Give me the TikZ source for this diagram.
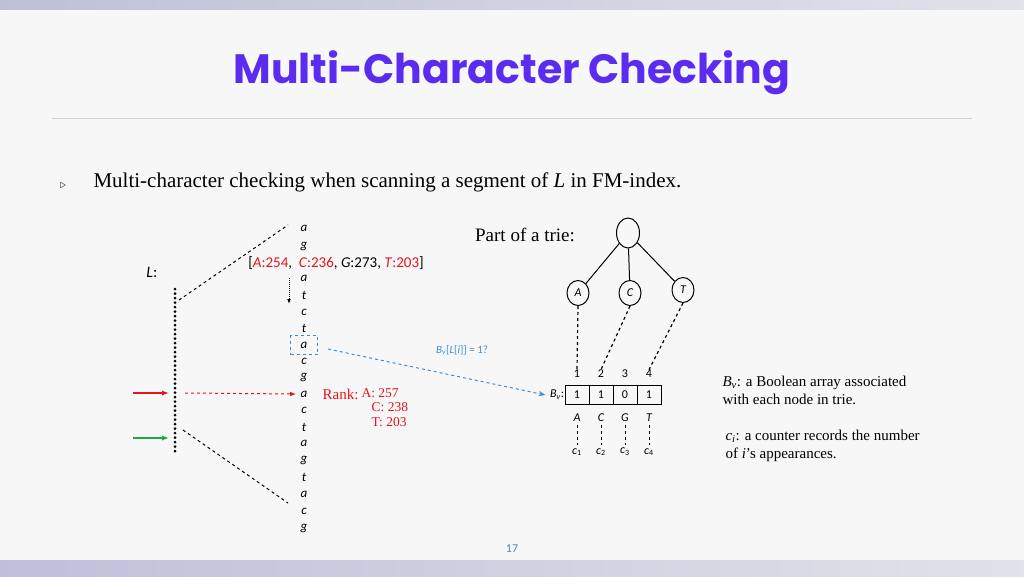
\documentclass[tikz,border=0pt]{standalone}
\usepackage{fontspec}
\setmainfont{Liberation Serif}
\newfontfamily\calfnt{Carlito}
\newfontfamily\popfnt{Poppins}
\usetikzlibrary{arrows.meta,shapes.geometric}
\definecolor{ttl}{HTML}{5A2CF0}
\definecolor{rd}{HTML}{E8141C}
\definecolor{bl}{HTML}{3A8FD0}
\definecolor{gr}{HTML}{1BA84A}
\tikzset{
 let/.style={font=\calfnt\itshape\fontsize{13}{13}\selectfont,inner sep=0pt},
 tn/.style={draw,ellipse,inner sep=0pt},
 cell/.style={draw,minimum width=24pt,minimum height=19pt,inner sep=0pt,font=\calfnt\fontsize{12}{12}\selectfont},
 sm/.style={font=\calfnt\fontsize{12}{12}\selectfont,inner sep=0pt},
 desc/.style={font=\fontsize{15}{18}\selectfont,inner sep=0pt,anchor=west,align=left},
 dl/.style={dashed,line width=1.2pt},
}
\begin{document}
\begin{tikzpicture}[x=1pt,y=-1pt,line width=1pt]
\useasboundingbox (0,0) rectangle (1024,576);
\fill[gray!6] (0,0) rectangle (1024,576);
\shade[left color=blue!25!gray!40,right color=blue!15!gray!20] (0,0) rectangle (1024,9);
\shade[left color=blue!25!gray!40,right color=blue!15!gray!20] (0,560) rectangle (1024,576);
\node[font=\popfnt\bfseries\fontsize{41}{41}\selectfont,text=ttl] (title) at (512,73) {Multi-Character Checking};
\draw[gray!35] (52,118) -- (972,118);
\node[font=\fontsize{12}{12}\selectfont] (bul) at (63,186) {$\triangleright$};
\node[font=\fontsize{21}{21}\selectfont,anchor=west,inner sep=0pt] (head) at (93,182) {Multi-character checking when scanning a segment of \textit{L} in FM-index.};
\foreach \c/\y [count=\i] in {a/228,g/246,a/278,t/295,c/312,t/328,a/345,c/361,g/377,a/394,c/410,t/427,a/443,g/460,t/477,a/494,c/511,g/528}
  \node[let] (l\i) at (304,\y) {\c};
\node[font=\calfnt\fontsize{15}{15}\selectfont,inner sep=0pt] (cnt) at (336,263) {[\textcolor{rd}{\textit{A}:254}, \ \textcolor{rd}{\textit{C}:236}, \textit{G}:273, \textcolor{rd}{\textit{T}:203}]};
\node[font=\calfnt\itshape\fontsize{16}{16}\selectfont] (L) at (152,272) {L\upshape:};
\draw[line width=3pt,dash pattern=on 0pt off 4.5pt,line cap=round] (175,289) -- (175,454);
\coordinate (top1) at (179,300); \coordinate (top2) at (288,225);
\coordinate (bot1) at (183,430); \coordinate (bot2) at (288,503);
\draw[dashed] (top1) -- (top2);
\draw[dashed] (bot1) -- (bot2);
\coordinate (ra) at (133,393); \coordinate (rb) at (169,393);
\draw[rd,line width=2pt,-{Latex[length=7pt]}] (ra) -- (rb);
\coordinate (ga) at (133,438); \coordinate (gb) at (169,438);
\draw[gr,line width=2pt,-{Latex[length=7pt]}] (ga) -- (gb);
\coordinate (rd1) at (185,393);
\draw[rd,dashed,-{Latex[length=6pt]}] (rd1) -- ([xshift=-4pt]l10.west);
\coordinate (ad1) at (289,278); \coordinate (ad2) at (289,304);
\draw[densely dotted,-{Latex[length=5pt]}] (ad1) -- (ad2);
\node[draw=bl,dashed,line width=1.2pt,minimum width=27pt,minimum height=19pt] (box) at (304,345) {};
\node[font=\fontsize{15}{16}\selectfont,text=rd,anchor=north east,inner sep=0pt] (rank) at (359,389) {Rank:};
\node[font=\fontsize{13.5}{15.5}\selectfont,text=rd,anchor=north west,inner sep=0pt,align=left] (rv) at (361,388) {A: 257\\[-1pt]\ \ \ C: 238\\[-1pt]\ \ \ T: 203};
\node[font=\fontsize{19}{19}\selectfont] (part) at (525,235) {Part of a trie:};
\node[tn,minimum width=23pt,minimum height=30pt] (root) at (628,233) {};
\node[tn,minimum width=22pt,minimum height=25pt,font=\calfnt\itshape\fontsize{12}{12}\selectfont] (A) at (578,293) {A};
\node[tn,minimum width=22pt,minimum height=25pt,font=\calfnt\itshape\fontsize{12}{12}\selectfont] (C) at (630,293) {C};
\node[tn,minimum width=22pt,minimum height=25pt,font=\calfnt\itshape\fontsize{12}{12}\selectfont] (T) at (683,290) {T};
\draw (root) -- (A); \draw (root) -- (C); \draw (root) -- (T);
\foreach \v/\x [count=\i] in {1/577,1/601,0/625,1/649}{
  \node[cell] (b\i) at (\x,395) {\v};
  \node[sm] (n\i) at (\x,374) {\i};
}
\foreach \s/\x [count=\i] in {A/577,C/601,G/625,T/649}{
  \node[sm,font=\calfnt\itshape\fontsize{12}{12}\selectfont] (s\i) at (\x,418) {\s};
  \node[sm] (c\i) at (\x,452) {\textit{c}\textsubscript{\i}};
  \draw[dashed] ([yshift=-3pt]s\i.south) -- ([yshift=3pt]c\i.north);
}
\draw[dl] (A.south) -- (n1.north);
\draw[dl] (C.south) -- (n2.north);
\draw[dl] (T.south) -- (n4.north);
\node[sm,anchor=east] (bv) at (b1.west) {\textit{B}\textsubscript{\textit{v}}:\ };
\coordinate (bs) at (328,349);
\draw[bl,dashed,-{Stealth[length=7pt,open]}] (bs) -- ([xshift=-4pt]bv.west);
\node[sm,text=bl,font=\calfnt\fontsize{11}{11}\selectfont] (q) at (462,350) {\textit{B}\textsubscript{\textit{v}}[\textit{L}[\textit{i}]] = 1?};
\node[desc] (d1) at (722,390) {\textit{B}\textsubscript{\textit{v}}: a Boolean array associated\\with each node in trie.};
\node[desc] (d2) at (725,446) {\textit{c}\textsubscript{\textit{i}}: a counter records the number\\of \textit{i}'s appearances.};
\node[font=\calfnt\fontsize{12}{12}\selectfont,text=bl!70!gray] (pg) at (512,549) {17};
\end{tikzpicture}
\end{document}
